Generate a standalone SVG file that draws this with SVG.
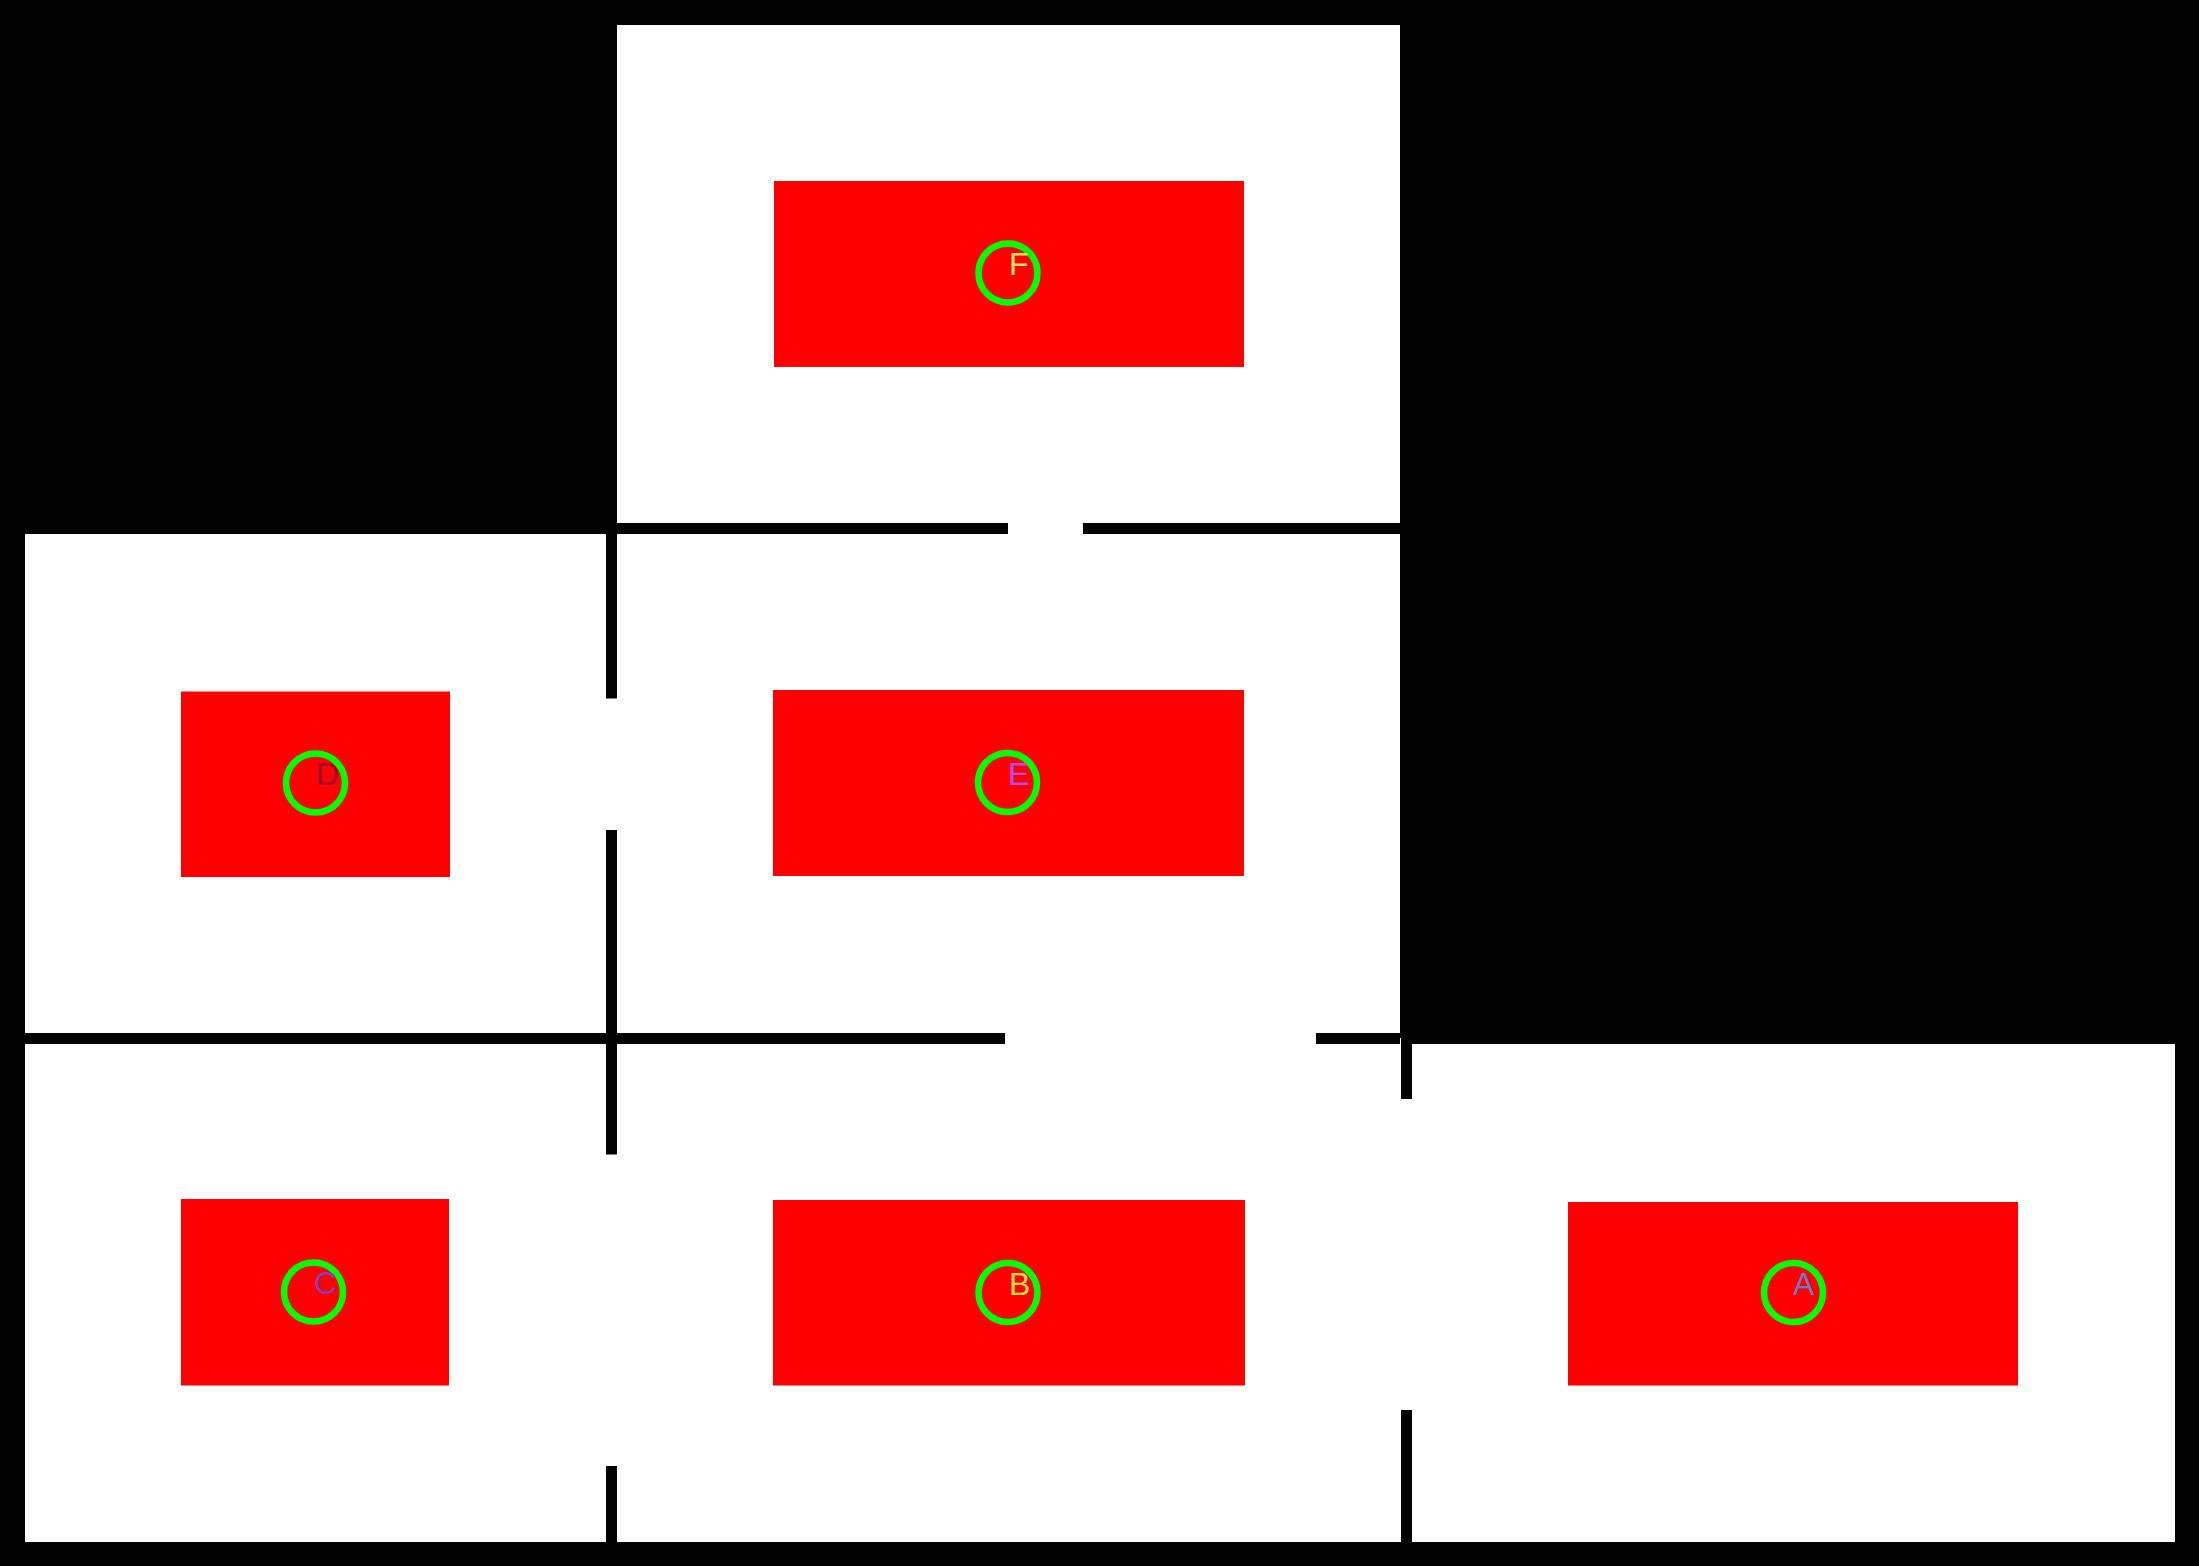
<svg xmlns="http://www.w3.org/2000/svg" width="2199" height="1566" viewBox="0 0 2199 1566">
<style>
.room{fill:#ffffff;stroke:none}
.box{fill:#ff0000;stroke:none}
.ring{fill:none;stroke:#00ff00;stroke-width:6.5}
.lbl{font-family:"Liberation Sans","DejaVu Sans",Arial,sans-serif;font-size:32px}
.wall{stroke:#000000;stroke-width:11;stroke-linecap:butt;fill:none}
</style>
<rect x="0" y="0" width="2199" height="1566" fill="#000000"/>
<g id="room-F">
<rect class="room" x="617" y="25" width="783" height="504"/>
<rect class="box" x="774" y="181" width="470" height="186"/>
<circle class="ring" cx="1008" cy="273" r="29.5"/>
<text class="lbl" x="1009" y="275" fill="#d2e264">F</text>
</g>
<g id="room-E">
<rect class="room" x="611" y="528" width="789" height="511"/>
<rect class="box" x="773" y="690" width="471" height="186"/>
<circle class="ring" cx="1007.5" cy="782.5" r="29.5"/>
<text class="lbl" x="1008" y="784.5" fill="#b44cf5">E</text>
</g>
<g id="room-D">
<rect class="room" x="25" y="534" width="587" height="505"/>
<rect class="box" x="181" y="691.5" width="269" height="185.5"/>
<circle class="ring" cx="315.5" cy="783" r="29.5"/>
<text class="lbl" x="316" y="785" fill="#a0002a">D</text>
</g>
<g id="room-C">
<rect class="room" x="25" y="1038" width="587" height="504"/>
<rect class="box" x="181" y="1199" width="268" height="186.5"/>
<circle class="ring" cx="313.5" cy="1292" r="29.5"/>
<text class="lbl" x="314" y="1294" fill="#8a3cb4">C</text>
</g>
<g id="room-B">
<rect class="room" x="611" y="1038" width="796" height="504"/>
<rect class="box" x="773" y="1200" width="472" height="185.5"/>
<circle class="ring" cx="1008" cy="1292.5" r="29.5"/>
<text class="lbl" x="1009" y="1294.5" fill="#d2e23c">B</text>
</g>
<g id="room-A">
<rect class="room" x="1406" y="1044" width="769" height="498"/>
<rect class="box" x="1568" y="1202" width="450" height="183.5"/>
<circle class="ring" cx="1793.5" cy="1292.5" r="29.5"/>
<text class="lbl" x="1793" y="1294.5" fill="#6a7ac8">A</text>
</g>
<g id="walls">
<line class="wall" x1="611" y1="528.5" x2="1008" y2="528.5"/>
<line class="wall" x1="1083" y1="528.5" x2="1400" y2="528.5"/>
<line class="wall" x1="611.5" y1="528" x2="611.5" y2="698.5"/>
<line class="wall" x1="611.5" y1="830" x2="611.5" y2="1154.5"/>
<line class="wall" x1="611.5" y1="1466" x2="611.5" y2="1542"/>
<line class="wall" x1="25" y1="1038.5" x2="1005" y2="1038.5"/>
<line class="wall" x1="1316" y1="1038.5" x2="1400" y2="1038.5"/>
<line class="wall" x1="1406.5" y1="1033" x2="1406.5" y2="1099"/>
<line class="wall" x1="1406.5" y1="1410" x2="1406.5" y2="1542"/>
</g>
</svg>
